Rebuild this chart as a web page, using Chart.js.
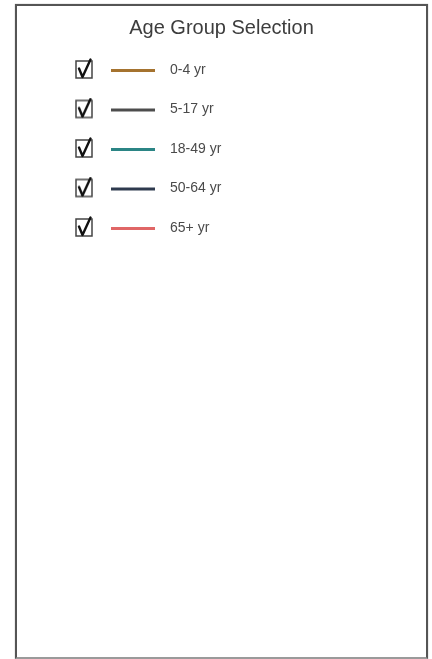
<!DOCTYPE html>
<html>
<head>
<meta charset="utf-8">
<title>Age Group Selection</title>
<script src="https://cdn.jsdelivr.net/npm/chart.js@4/dist/chart.umd.min.js"></script>
<style>
    html, body { margin: 0; padding: 0; background: #fff; }
    #box {
        position: absolute;
        left: 15px;
        top: 4px;
        width: 409px;
        height: 651px;
        border: 2px solid #555;
        border-bottom-color: #9a9a9a;
        box-shadow: 0 0 1px #999;
    }
</style>
</head>
<body>
<div id="box"><canvas id="chart"></canvas></div>
<script>
// age groups shown in the selection panel
const ageGroups = ['0-4 yr', '5-17 yr', '18-49 yr', '50-64 yr', '65+ yr'];
const groupColors = ['#a5732f', '#4d4d4d', '#2b8585', '#2e3a4e', '#e06666'];
// no weeks / rates are plotted in this panel, the series are empty
const weekLabels = [];
const rates0to4 = [];
const rates5to17 = [];
const rates18to49 = [];
const rates50to64 = [];
const rates65plus = [];

const seriesValues = [rates0to4, rates5to17, rates18to49, rates50to64, rates65plus];

Chart.defaults.font.family = "'Liberation Sans', Arial, sans-serif";

// legend marker: a checkbox followed by a short line in the series colour
const makeMarker = (color, checked) => {
    const c = document.createElement('canvas');
    c.width = 88;
    c.height = 24;
    const ctx = c.getContext('2d');
    ctx.strokeStyle = '#444';
    ctx.lineWidth = 1.5;
    ctx.strokeRect(1, 3, 16, 17);
    if (checked) {
        ctx.strokeStyle = '#111';
        ctx.lineWidth = 2.4;
        ctx.lineCap = 'round';
        ctx.lineJoin = 'round';
        ctx.beginPath();
        ctx.moveTo(4, 10.5);
        ctx.lineTo(7.5, 19);
        ctx.lineTo(15.5, 1.5);
        ctx.stroke();
    }
    ctx.strokeStyle = color;
    ctx.lineWidth = 3;
    ctx.lineCap = 'butt';
    ctx.beginPath();
    ctx.moveTo(36, 12.5);
    ctx.lineTo(80, 12.5);
    ctx.stroke();
    return c;
};

const chart = new Chart(document.getElementById('chart').getContext('2d'), {
    type: 'line',
    data: {
        labels: weekLabels,
        datasets: ageGroups.map((group, i) => ({
            label: group,
            data: seriesValues[i],
            borderColor: groupColors[i],
            backgroundColor: groupColors[i],
            borderWidth: 3,
            pointRadius: 0
        }))
    },
    options: {
        responsive: true,
        maintainAspectRatio: false,
        animation: false,
        layout: {
            padding: { left: 32.5, right: 32.5, top: 0, bottom: 0 }
        },
        scales: {
            x: { display: false },
            y: { display: false }
        },
        plugins: {
            title: {
                display: true,
                text: 'Age Group Selection',
                color: '#3d3d3d',
                font: { size: 20, weight: 'normal', lineHeight: 0.95 },
                padding: { top: 12.5, bottom: 0 }
            },
            legend: {
                display: true,
                position: 'left',
                align: 'start',
                fullSize: false,
                labels: {
                    usePointStyle: true,
                    pointStyleWidth: 88,
                    padding: 25.5,
                    color: '#4a4a4a',
                    font: { size: 14 },
                    generateLabels: (chart) => chart.data.datasets.map((ds, i) => {
                        const visible = chart.isDatasetVisible(i);
                        return {
                            text: ds.label,
                            datasetIndex: i,
                            hidden: !visible,
                            fontColor: '#4a4a4a',
                            pointStyle: makeMarker(ds.borderColor, visible),
                            lineWidth: 0,
                            strokeStyle: 'transparent',
                            fillStyle: 'transparent'
                        };
                    })
                }
            },
            tooltip: { enabled: false }
        }
    }
});
</script>
</body>
</html>
